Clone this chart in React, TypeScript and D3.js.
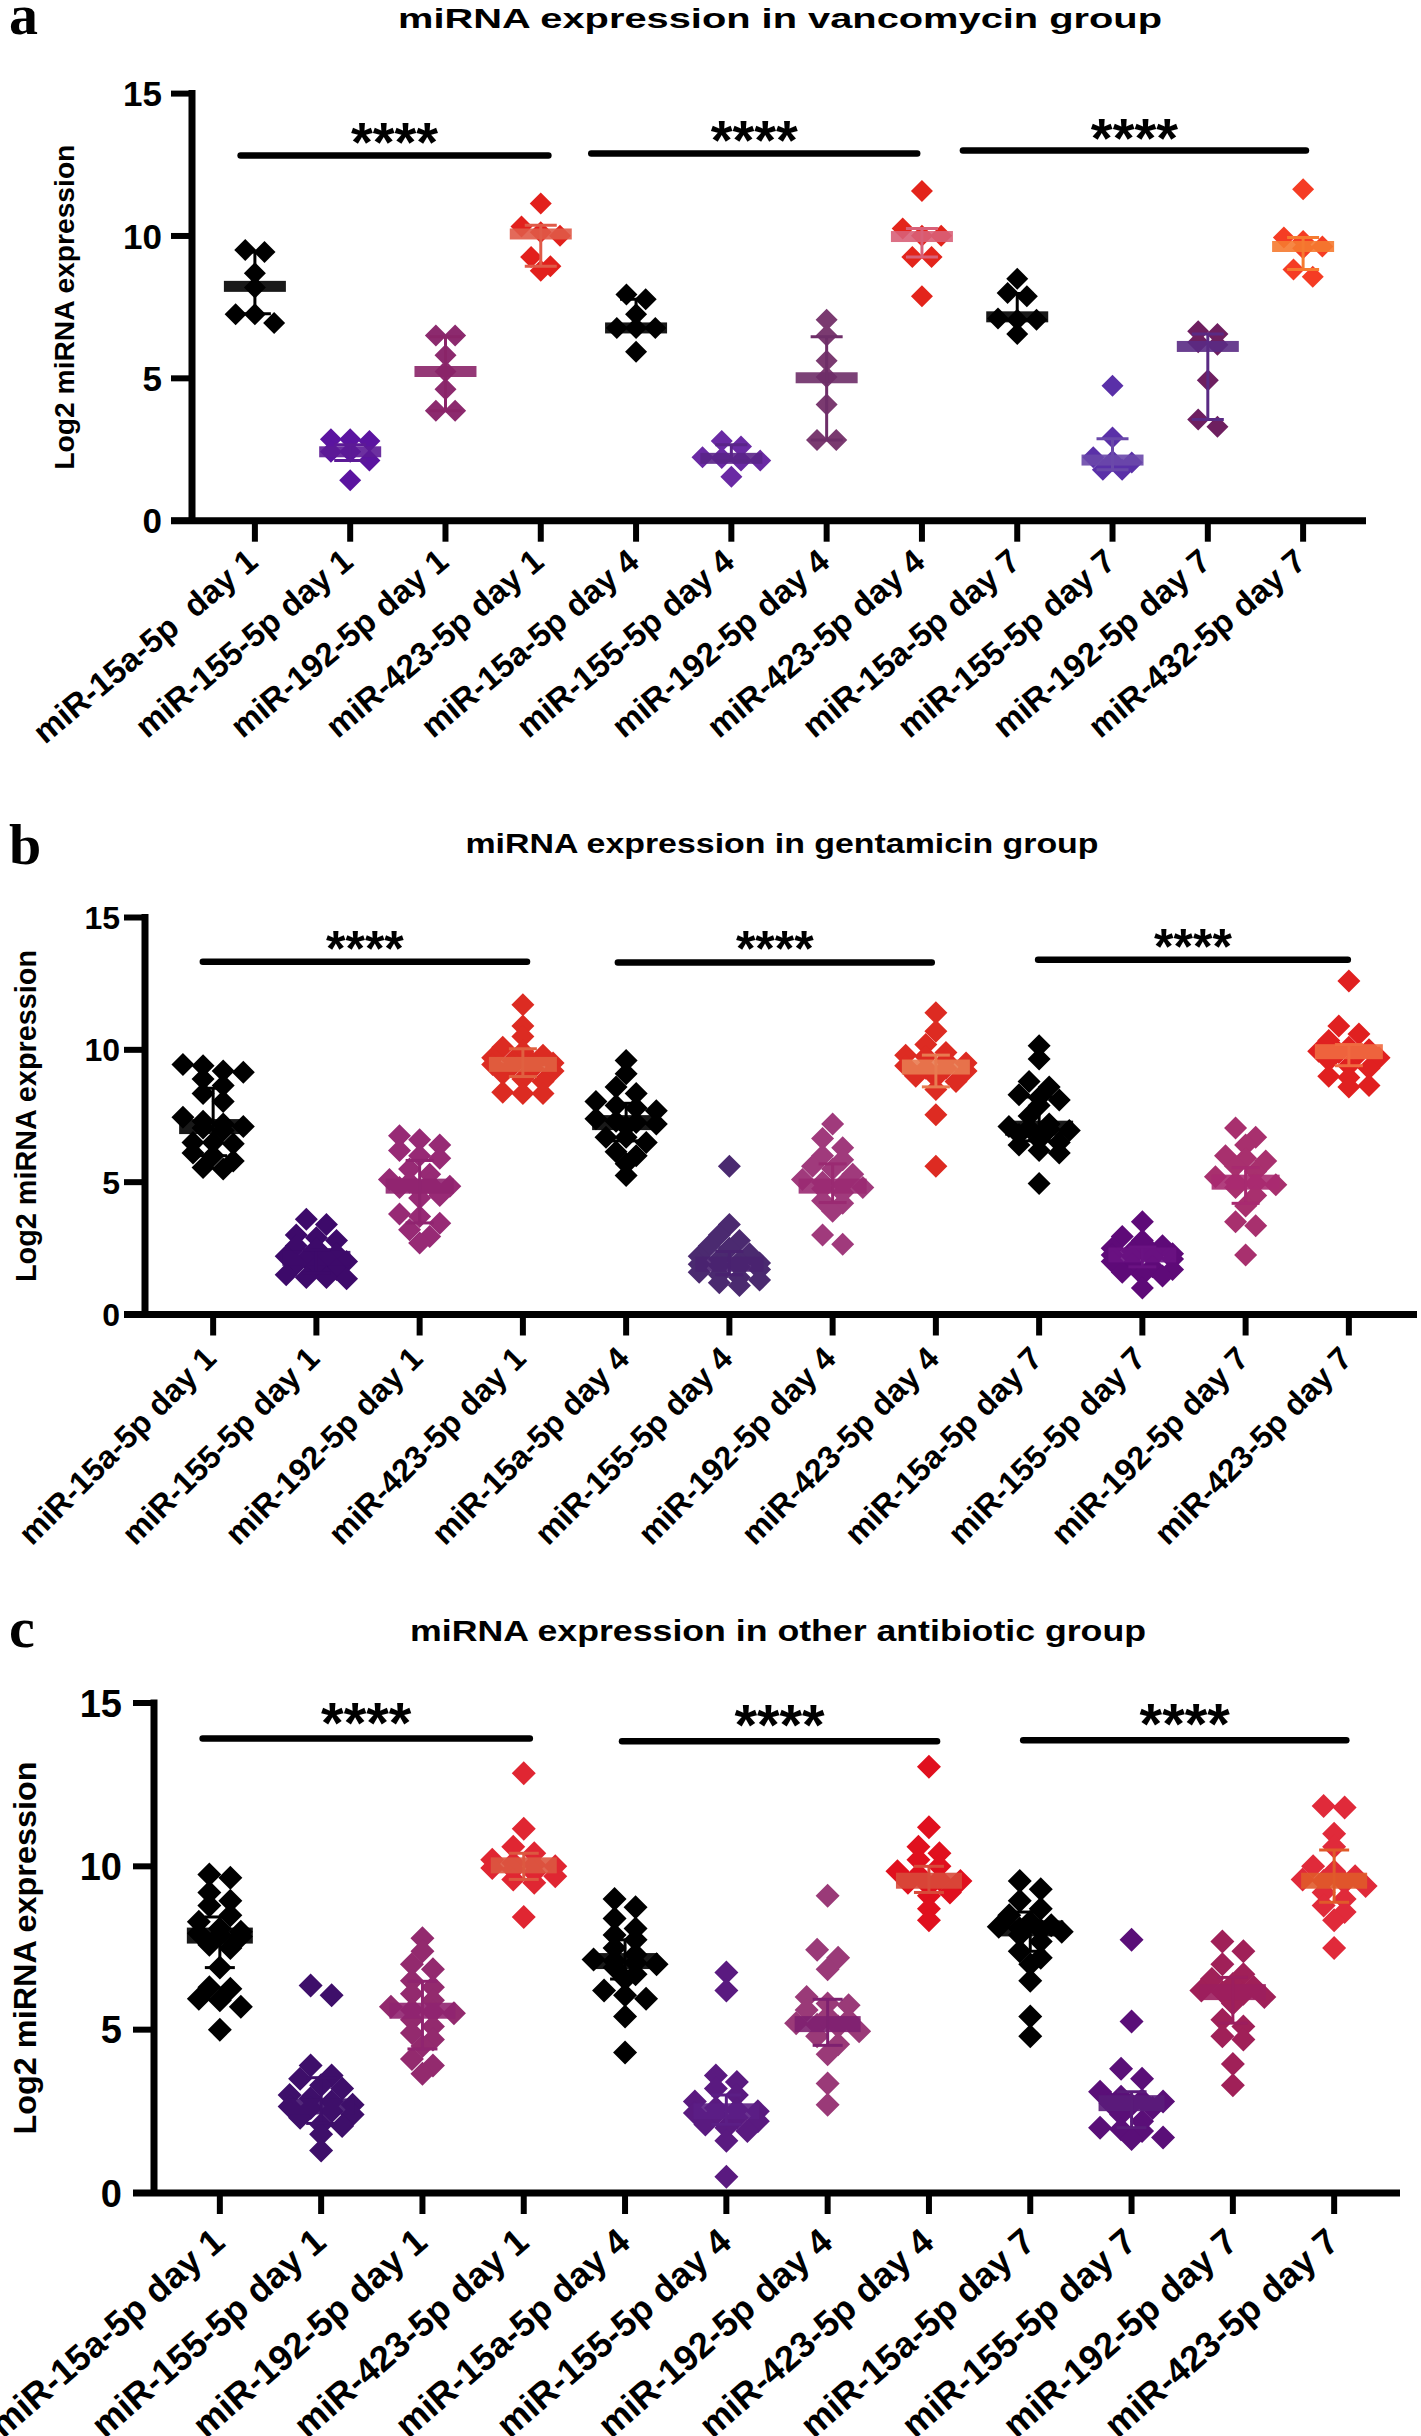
import React from 'react';
import * as d3 from 'd3';

// ---------- shared category labels ----------
const labelsA = ['miR-15a-5p  day 1', 'miR-155-5p day 1', 'miR-192-5p day 1', 'miR-423-5p day 1', 'miR-15a-5p day 4', 'miR-155-5p day 4', 'miR-192-5p day 4', 'miR-423-5p day 4', 'miR-15a-5p day 7', 'miR-155-5p day 7', 'miR-192-5p day 7', 'miR-432-5p day 7'];
const labelsBC = ['miR-15a-5p day 1', 'miR-155-5p day 1', 'miR-192-5p day 1', 'miR-423-5p day 1', 'miR-15a-5p day 4', 'miR-155-5p day 4', 'miR-192-5p day 4', 'miR-423-5p day 4', 'miR-15a-5p day 7', 'miR-155-5p day 7', 'miR-192-5p day 7', 'miR-423-5p day 7'];
const yTicks = [0, 5, 10, 15];

// ---------- panel a : vancomycin ----------
const valuesA = [
  [9.51, 9.44, 8.69, 8.19, 7.25, 7.25, 6.94],
  [2.86, 2.86, 2.8, 2.42, 2.42, 2.11, 1.42],
  [6.5, 6.5, 5.81, 5.24, 4.62, 3.86, 3.86],
  [11.14, 10.33, 10.13, 10.01, 9.26, 8.94, 8.78],
  [7.94, 7.78, 7.25, 6.77, 6.77, 6.77, 5.93],
  [2.8, 2.61, 2.23, 2.2, 2.11, 2.11, 1.54],
  [7.06, 6.5, 5.62, 5.05, 4.08, 2.83, 2.83],
  [11.58, 10.26, 10.01, 10.01, 9.26, 9.26, 7.88],
  [8.5, 8.0, 7.88, 7.1, 7.06, 7.06, 6.56],
  [4.74, 2.92, 2.23, 2.1, 2.04, 1.79, 1.79],
  [6.65, 6.56, 6.27, 6.18, 4.93, 3.55, 3.3],
  [11.64, 9.95, 9.82, 9.63, 9.57, 8.82, 8.57],
];
const medA = [8.23, 2.42, 5.24, 10.07, 6.77, 2.19, 5.02, 9.98, 7.16, 2.13, 6.12, 9.63];
const q3A = [9.44, 2.67, 6.46, 10.38, 7.78, 2.67, 6.46, 10.26, 7.98, 2.88, 6.56, 9.95];
const q1A = [7.27, 2.11, 3.86, 8.94, 6.77, 2.11, 2.83, 9.26, 7.06, 1.79, 3.55, 8.82];
const colorsA = ['#000000', '#5b14a0', '#8c2a6e', '#e2201c', '#000000', '#6a2aa4', '#7a3a70', '#e3241b', '#000000', '#5a30a8', '#6e1f60', '#f53c24'];
const barColorsA = ['#000000', '#5c1a96', '#8a2468', '#e05a48', '#000000', '#5a2488', '#6e2e68', '#d86078', '#000000', '#6a48aa', '#5a2a84', '#f57a30'];
const sigFromA = [-0.15, 3.53, 7.43];
const sigToA = [3.08, 6.95, 11.03];
const sigYA = [12.83, 12.9, 13.0];

// ---------- panel b : gentamicin ----------
const valuesB = [
  [9.45, 9.4, 9.2, 9.15, 8.9, 8.65, 8.35, 8.05, 7.45, 7.3, 7.2, 7.1, 7.05, 6.95, 6.5, 6.5, 6.45, 6.1, 6.0, 5.8, 5.55, 5.5],
  [3.6, 3.4, 3.0, 2.9, 2.8, 2.6, 2.5, 2.3, 2.2, 2.1, 2.1, 2.0, 1.9, 1.8, 1.7, 1.5, 1.4, 1.4, 1.35],
  [6.75, 6.6, 6.4, 6.2, 6.0, 5.9, 5.5, 5.3, 5.1, 5.0, 4.95, 4.85, 4.8, 4.7, 4.5, 4.4, 3.8, 3.7, 3.45, 3.2, 2.95, 2.7],
  [11.7, 10.9, 10.5, 10.1, 9.95, 9.8, 9.7, 9.6, 9.5, 9.5, 9.45, 9.4, 9.3, 9.2, 9.1, 8.9, 8.8, 8.4, 8.35, 8.35],
  [9.6, 9.1, 8.6, 8.35, 8.05, 7.9, 7.8, 7.7, 7.4, 7.3, 7.25, 7.2, 7.1, 6.7, 6.7, 6.5, 6.15, 6.0, 5.7, 5.25],
  [5.6, 3.4, 3.0, 2.8, 2.6, 2.5, 2.3, 2.2, 2.1, 2.0, 1.95, 1.9, 1.85, 1.8, 1.7, 1.6, 1.5, 1.4, 1.3, 1.2, 1.1],
  [7.2, 6.65, 6.3, 6.0, 5.85, 5.6, 5.5, 5.3, 5.1, 5.0, 4.9, 4.8, 4.75, 4.6, 4.3, 4.2, 3.9, 3.0, 2.65],
  [11.4, 10.7, 10.2, 9.9, 9.8, 9.75, 9.6, 9.5, 9.4, 9.3, 9.3, 9.2, 9.0, 8.95, 8.8, 8.5, 7.55, 5.6],
  [10.15, 9.65, 8.8, 8.6, 8.3, 8.2, 8.1, 7.9, 7.5, 7.2, 7.1, 7.05, 7.0, 6.95, 6.8, 6.6, 6.5, 6.4, 6.2, 6.1, 4.95],
  [3.5, 2.95, 2.8, 2.6, 2.5, 2.4, 2.35, 2.3, 2.25, 2.2, 2.15, 2.1, 2.0, 1.9, 1.8, 1.7, 1.6, 1.5, 1.45, 1.0],
  [7.05, 6.7, 6.4, 6.0, 5.9, 5.8, 5.6, 5.4, 5.2, 5.0, 4.95, 4.9, 4.8, 4.5, 4.1, 3.5, 3.35, 2.25],
  [12.6, 10.9, 10.6, 10.35, 10.1, 10.0, 9.95, 9.9, 9.85, 9.7, 9.6, 9.4, 9.3, 9.0, 8.95, 8.65, 8.6],
];
const medB = [7.1, 2.12, 4.85, 9.45, 7.25, 1.9, 4.85, 9.35, 7.04, 2.25, 5.0, 9.93];
const q3B = [8.55, 2.45, 5.82, 10.04, 7.98, 2.38, 5.69, 9.8, 8.22, 2.55, 5.55, 10.2];
const q1B = [6.0, 1.58, 3.46, 8.99, 6.56, 1.5, 4.23, 8.6, 6.56, 1.8, 4.2, 9.4];
const colorsB = ['#000000', '#3d0a6a', '#972a75', '#dc2b22', '#000000', '#4b2a70', '#a03a7c', '#dd2b22', '#000000', '#5e0a78', '#a8306e', '#e02020'];
const barColorsB = ['#000000', '#3d0a6a', '#902470', '#e06040', '#000000', '#4a2270', '#9a2a72', '#e87a50', '#000000', '#6a1282', '#a82a70', '#f06a40'];
const sigFromB = [-0.1, 3.92, 7.99];
const sigToB = [3.04, 6.96, 10.99];
const sigYB = [13.33, 13.3, 13.4];

// ---------- panel c : other antibiotic ----------
const valuesC = [
  [9.75, 9.65, 9.2, 8.95, 8.8, 8.5, 8.3, 8.1, 8.0, 7.95, 7.9, 7.85, 7.6, 7.5, 6.9, 6.3, 6.25, 5.95, 5.9, 5.7, 5.0],
  [6.35, 6.05, 3.9, 3.6, 3.5, 3.3, 3.2, 3.0, 2.9, 2.8, 2.7, 2.65, 2.6, 2.5, 2.4, 2.3, 2.1, 2.05, 1.8, 1.3],
  [7.8, 7.4, 7.0, 6.85, 6.5, 6.3, 6.1, 5.9, 5.7, 5.6, 5.55, 5.5, 5.3, 5.1, 4.9, 4.7, 4.5, 4.1, 3.9, 3.65],
  [12.85, 11.15, 10.6, 10.4, 10.2, 10.1, 10.05, 10.0, 9.95, 9.9, 9.8, 9.7, 9.6, 9.5, 8.45],
  [9.0, 8.75, 8.4, 8.1, 7.9, 7.75, 7.5, 7.3, 7.15, 7.1, 7.05, 7.0, 6.9, 6.7, 6.55, 6.2, 6.05, 5.95, 5.4, 4.3],
  [6.75, 6.2, 3.6, 3.4, 3.2, 3.0, 2.8, 2.6, 2.55, 2.5, 2.45, 2.4, 2.3, 2.2, 2.1, 2.0, 1.9, 1.6, 0.5],
  [9.1, 7.45, 7.2, 6.85, 6.0, 5.8, 5.75, 5.6, 5.4, 5.3, 5.2, 5.15, 5.1, 4.95, 4.8, 4.55, 4.25, 3.35, 2.7],
  [13.05, 11.2, 10.6, 10.4, 10.2, 10.0, 9.85, 9.75, 9.6, 9.55, 9.5, 9.4, 9.2, 9.1, 8.7, 8.35],
  [9.55, 9.3, 8.95, 8.7, 8.5, 8.3, 8.2, 8.15, 8.1, 8.05, 8.0, 7.9, 7.7, 7.4, 7.2, 7.0, 6.5, 5.4, 4.8],
  [7.75, 5.25, 3.8, 3.5, 3.1, 2.95, 2.85, 2.8, 2.75, 2.7, 2.6, 2.4, 2.2, 2.0, 1.95, 1.9, 1.7, 1.65],
  [7.7, 7.4, 7.0, 6.7, 6.55, 6.4, 6.3, 6.2, 6.15, 6.1, 6.0, 5.8, 5.3, 5.1, 4.8, 4.7, 3.95, 3.3],
  [11.85, 11.8, 11.0, 10.6, 10.0, 9.85, 9.7, 9.6, 9.55, 9.5, 9.4, 9.2, 9.0, 8.8, 8.6, 8.35, 7.5],
];
const medC = [7.88, 2.65, 5.58, 10.03, 7.1, 2.5, 5.17, 9.56, 8.1, 2.75, 6.15, 9.56];
const q3C = [8.45, 3.53, 6.48, 10.4, 7.75, 3.0, 5.93, 10.0, 8.6, 3.1, 6.6, 10.5];
const q1C = [6.9, 2.13, 4.41, 9.6, 6.55, 2.1, 4.52, 9.2, 7.4, 2.0, 5.2, 8.9];
const colorsC = ['#000000', '#3e0f6a', '#932a6e', '#e02632', '#000000', '#5a1a80', '#9a3a78', '#e0101e', '#000000', '#5a0f78', '#a02058', '#e02a3a'];
const barColorsC = ['#000000', '#3e0f6a', '#902470', '#dc5840', '#000000', '#5b1e85', '#7e2070', '#d84a3a', '#000000', '#5a1c7a', '#9c1e5e', '#e05a2a'];
const sigFromC = [-0.17, 3.97, 7.93];
const sigToC = [3.06, 7.08, 11.12];
const sigYC = [13.91, 13.83, 13.86];

const FONT = "'Liberation Sans', Arial, Helvetica, sans-serif";
const SERIF = "'Liberation Serif', 'Times New Roman', serif";

type Spec = {
  letter: string; title: string; labels: string[]; values: number[][];
  med: number[]; q1: number[]; q3: number[]; colors: string[]; barColors: string[];
  sigFrom: number[]; sigTo: number[]; sigY: number[];
  x0: number; x1: number; yTop: number; yBottom: number; pad: number;
  letterY: number; titleY: number; titleW: number; titleSize: number; titleX: number;
  yTitleX: number; yTitleLen: number; yTitleSize: number;
  tickFont: number; tickLabelRight: number;
  labelFont: number; labelAngle: number; labelDx: number; labelDy: number;
  starFont: number; starOff: number; barW: number; barH: number; capW: number; r: number;
};

const panels: Spec[] = [
  {
    letter: 'a', title: 'miRNA expression in vancomycin group', labels: labelsA, values: valuesA,
    med: medA, q1: q1A, q3: q3A, colors: colorsA, barColors: barColorsA,
    sigFrom: sigFromA, sigTo: sigToA, sigY: sigYA,
    x0: 192, x1: 1366, yTop: 93.6, yBottom: 520.7, pad: 0.66,
    letterY: 34, titleY: 28, titleW: 764, titleSize: 28, titleX: 780,
    yTitleX: 74, yTitleLen: 325, yTitleSize: 28,
    tickFont: 35, tickLabelRight: 162,
    labelFont: 33, labelAngle: 40, labelDx: 5, labelDy: 44,
    starFont: 56, starOff: 6, barW: 62, barH: 11, capW: 32, r: 11,
  },
  {
    letter: 'b', title: 'miRNA expression in gentamicin group', labels: labelsBC, values: valuesB,
    med: medB, q1: q1B, q3: q3B, colors: colorsB, barColors: barColorsB,
    sigFrom: sigFromB, sigTo: sigToB, sigY: sigYB,
    x0: 145, x1: 1417, yTop: 917.5, yBottom: 1314.5, pad: 0.66,
    letterY: 864, titleY: 853, titleW: 633, titleSize: 28, titleX: 782,
    yTitleX: 36, yTitleLen: 332, yTitleSize: 29,
    tickFont: 32, tickLabelRight: 120,
    labelFont: 32, labelAngle: 45, labelDx: 5, labelDy: 46,
    starFont: 50, starOff: 4, barW: 68, barH: 15, capW: 28, r: 11.5,
  },
  {
    letter: 'c', title: 'miRNA expression in other antibiotic group', labels: labelsBC, values: valuesC,
    med: medC, q1: q1C, q3: q3C, colors: colorsC, barColors: barColorsC,
    sigFrom: sigFromC, sigTo: sigToC, sigY: sigYC,
    x0: 154, x1: 1400, yTop: 1703, yBottom: 2193, pad: 0.65,
    letterY: 1647, titleY: 1641, titleW: 736, titleSize: 30, titleX: 778,
    yTitleX: 36, yTitleLen: 373, yTitleSize: 32,
    tickFont: 38, tickLabelRight: 122,
    labelFont: 36, labelAngle: 41, labelDx: 7, labelDy: 52,
    starFont: 58, starOff: 4, barW: 66, barH: 16, capW: 30, r: 12,
  },
];

type Pt = { v: number; y: number; x: number };

function layoutPoints(vals: number[], y: d3.ScaleLinear<number, number>, cx: number, r: number): Pt[] {
  const pts = vals.map((v) => ({ v, y: y(v), x: cx })).sort((a, b) => a.y - b.y);
  const rows: Pt[][] = [];
  for (const p of pts) {
    const row = rows[rows.length - 1];
    if (row && p.y - row[0].y < r * 0.85 && row.length < 4) row.push(p);
    else rows.push([p]);
  }
  const out: Pt[] = [];
  rows.forEach((row) => {
    row.forEach((p, i) => {
      out.push({ ...p, x: cx + (i - (row.length - 1) / 2) * r * 1.75 });
    });
  });
  return out;
}

function Panel({ p }: { p: Spec }) {
  const x = d3.scalePoint<number>().domain(d3.range(p.labels.length)).range([p.x0, p.x1]).padding(p.pad);
  const y = d3.scaleLinear().domain([0, 15]).range([p.yBottom, p.yTop]);
  const step = x.step();
  const xf = (f: number) => (x(0) as number) + f * step;
  const diamond = d3.symbol(d3.symbolSquare, 2 * p.r * p.r)() as string;
  const tickLen = 21;
  const axisW = 7;

  return (
    <g>
      <text x={9} y={p.letterY} fontFamily={SERIF} fontWeight="bold" fontSize={58}>{p.letter}</text>
      <text x={p.titleX} y={p.titleY} textAnchor="middle" fontFamily={FONT} fontWeight="bold" fontSize={p.titleSize}
        textLength={p.titleW} lengthAdjust="spacingAndGlyphs">{p.title}</text>
      <text transform={`translate(${p.yTitleX},${(p.yTop + p.yBottom) / 2}) rotate(-90)`} textAnchor="middle"
        fontFamily={FONT} fontWeight="bold" fontSize={p.yTitleSize} textLength={p.yTitleLen} lengthAdjust="spacingAndGlyphs">
        Log2 miRNA expression
      </text>

      {/* points */}
      {p.values.map((vals, i) => {
        const pts = layoutPoints(vals, y, x(i) as number, p.r);
        return (
          <g key={`pts${i}`} fill={p.colors[i]}>
            {pts.map((pt, j) => (
              <path key={j} d={diamond} transform={`translate(${pt.x},${pt.y}) rotate(45)`} />
            ))}
          </g>
        );
      })}

      {/* median + IQR */}
      {p.values.map((_, i) => {
        const cx = x(i) as number;
        return (
          <g key={`st${i}`}>
            <rect x={cx - p.barW / 2} y={y(p.med[i]) - p.barH / 2} width={p.barW} height={p.barH} fill={p.barColors[i]} opacity={0.9} />
            <g stroke={p.barColors[i]} strokeWidth={3}>
              <line x1={cx} x2={cx} y1={y(p.q3[i])} y2={y(p.q1[i])} />
              <line x1={cx - p.capW / 2} x2={cx + p.capW / 2} y1={y(p.q3[i])} y2={y(p.q3[i])} />
              <line x1={cx - p.capW / 2} x2={cx + p.capW / 2} y1={y(p.q1[i])} y2={y(p.q1[i])} />
            </g>
          </g>
        );
      })}

      {/* significance */}
      {p.sigY.map((sy, k) => {
        const xa = xf(p.sigFrom[k]);
        const xb = xf(p.sigTo[k]);
        const yy = y(sy);
        return (
          <g key={`sig${k}`}>
            <line x1={xa} x2={xb} y1={yy} y2={yy} stroke="#000" strokeWidth={6.5} strokeLinecap="round" />
            <text x={(xa + xb) / 2} y={yy + p.starOff} textAnchor="middle" fontFamily={FONT} fontWeight="bold" fontSize={p.starFont}>****</text>
          </g>
        );
      })}

      {/* axes */}
      <line x1={p.x0} x2={p.x0} y1={p.yBottom} y2={p.yTop - axisW / 2} stroke="#000" strokeWidth={axisW} />
      <line x1={p.x0 - tickLen} x2={p.x1} y1={p.yBottom} y2={p.yBottom} stroke="#000" strokeWidth={axisW} />
      {yTicks.map((t) => (
        <g key={`yt${t}`}>
          <line x1={p.x0 - tickLen} x2={p.x0} y1={y(t)} y2={y(t)} stroke="#000" strokeWidth={6} />
          <text x={p.tickLabelRight} y={y(t)} dy="0.36em" textAnchor="end" fontFamily={FONT} fontWeight="bold" fontSize={p.tickFont}>{t}</text>
        </g>
      ))}
      {p.labels.map((lab, i) => {
        const cx = x(i) as number;
        return (
          <g key={`xt${i}`}>
            <line x1={cx} x2={cx} y1={p.yBottom} y2={p.yBottom + tickLen} stroke="#000" strokeWidth={6} />
            <text transform={`translate(${cx + p.labelDx},${p.yBottom + p.labelDy}) rotate(${-p.labelAngle})`} textAnchor="end"
              fontFamily={FONT} fontWeight="bold" fontSize={p.labelFont} style={{ whiteSpace: 'pre' }}>{lab}</text>
          </g>
        );
      })}
    </g>
  );
}

export default function App() {
  return (
    <svg width={1421} height={2436} viewBox="0 0 1421 2436" style={{ position: 'absolute', left: 0, top: 0, background: '#fff' }}>
      <rect x={0} y={0} width={1421} height={2436} fill="#fff" />
      {panels.map((p) => <Panel key={p.letter} p={p} />)}
    </svg>
  );
}
